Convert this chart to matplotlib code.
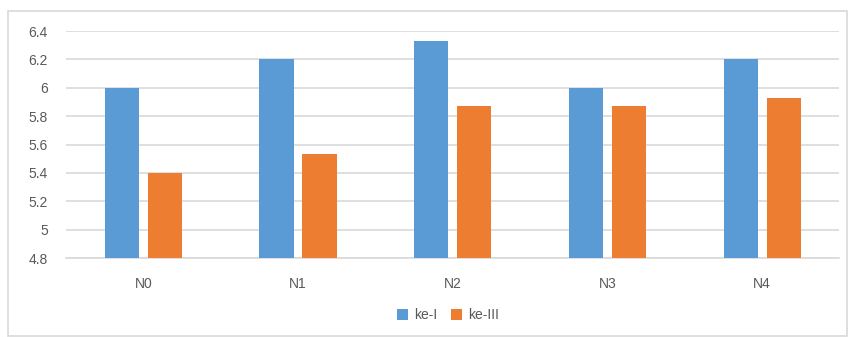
import numpy as np
import matplotlib.pyplot as plt
from matplotlib.patches import Rectangle

categories = ['N0', 'N1', 'N2', 'N3', 'N4']
ke_i = [6.0, 6.2, 6.33, 6.0, 6.2]
ke_iii = [5.4, 5.53, 5.87, 5.87, 5.93]

plt.rcParams['font.family'] = ['Liberation Sans', 'DejaVu Sans']
text_col = '#595959'
grid_col = '#D9D9D9'

fig = plt.figure(figsize=(8.5, 3.37), dpi=100)
ax = fig.add_axes([0.0776, 0.2344, 0.910, 0.6736])

x = np.arange(len(categories))
w = 0.22
ax.bar(x - 0.139, ke_i, w, bottom=0, color='#5B9BD5', label='ke-I', zorder=3)
ax.bar(x + 0.139, ke_iii, w, bottom=0, color='#ED7D31', label='ke-III', zorder=3)

ax.set_ylim(4.8, 6.4)
ax.set_xlim(-0.5, len(categories) - 0.5)
ticks = [4.8, 5.0, 5.2, 5.4, 5.6, 5.8, 6.0, 6.2, 6.4]
ax.set_yticks(ticks)
ax.set_yticklabels(['4.8', '5', '5.2', '5.4', '5.6', '5.8', '6', '6.2', '6.4'])
ax.set_xticks(x)
ax.set_xticklabels(categories)
ax.grid(axis='y', color=grid_col, linewidth=1.2, zorder=0)
ax.tick_params(axis='both', length=0, colors=text_col, labelsize=10)
ax.tick_params(axis='x', pad=14)
ax.tick_params(axis='y', pad=13)
for s in ['top', 'right', 'left']:
    ax.spines[s].set_visible(False)
ax.spines['bottom'].set_color(grid_col)
ax.spines['bottom'].set_linewidth(1.2)

leg = fig.legend(loc='center', bbox_to_anchor=(0.527, 0.065), ncol=2, frameon=False,
                 handlelength=0.8, handleheight=0.8, handletextpad=0.4,
                 columnspacing=1.0, fontsize=10)
for t in leg.get_texts():
    t.set_color(text_col)

# outer chart border
fig.patches.append(Rectangle((0.009, 0.003), 0.988, 0.965, transform=fig.transFigure,
                             fill=False, edgecolor=grid_col, linewidth=1.2))

fig.savefig('out.png', dpi=100)
